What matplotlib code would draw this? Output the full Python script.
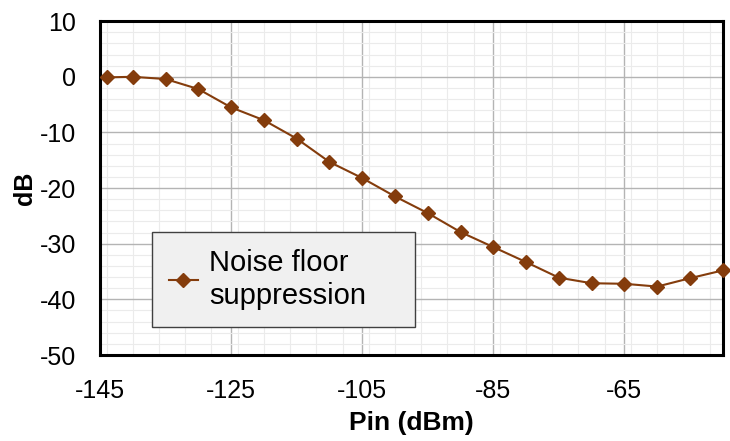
import matplotlib
matplotlib.use('Agg')
import matplotlib.pyplot as plt
from matplotlib.ticker import MultipleLocator

# data
pin_dbm = [-144, -140, -135, -130, -125, -120, -115, -110, -105, -100, -95,
           -90, -85, -80, -75, -70, -65, -60, -55, -50]
suppression_db = [-0.1, 0.0, -0.4, -2.2, -5.5, -7.8, -11.1, -15.3, -18.2, -21.5, -24.5,
                  -27.9, -30.6, -33.3, -36.1, -37.1, -37.2, -37.7, -36.2, -34.8]
x_ticks = [-145, -125, -105, -85, -65]
y_ticks = [10, 0, -10, -20, -30, -40, -50]

plt.rcParams['font.family'] = ['Liberation Sans', 'DejaVu Sans']
plt.rcParams['axes.unicode_minus'] = False

fig = plt.figure(figsize=(7.3, 4.41), dpi=100)
ax = fig.add_axes([0.137, 0.195, 0.853, 0.757])

ax.plot(pin_dbm, suppression_db, color='#843c0c', lw=1.5, marker='D', ms=7,
        label='Noise floor\nsuppression', zorder=3, clip_on=False)

ax.set_xlim(-145, -50)
ax.set_ylim(-50, 10)
ax.set_xticks(x_ticks)
ax.set_yticks(y_ticks)
ax.xaxis.set_minor_locator(MultipleLocator(4))
ax.yaxis.set_minor_locator(MultipleLocator(2))
ax.grid(which='major', color='#b4b4b4', lw=1.0)
ax.grid(which='minor', color='#ebebeb', lw=0.8)
ax.set_axisbelow(True)
ax.tick_params(which='both', length=0, labelsize=18)
ax.tick_params(axis='x', pad=17)
ax.tick_params(axis='y', pad=17)
for s in ax.spines.values():
    s.set_linewidth(2.2)
    s.set_color('black')

ax.set_xlabel('Pin (dBm)', fontsize=19, fontweight='bold', labelpad=6)
ax.set_ylabel('dB', fontsize=18, fontweight='bold', labelpad=2)

leg = ax.legend(loc='lower left', bbox_to_anchor=(0.083, 0.085, 0.4226, 0.284),
                mode='expand', fontsize=21,
                fancybox=False, frameon=True, handlelength=1.0, handletextpad=0.4,
                borderpad=0.58, borderaxespad=0)
leg.get_frame().set_facecolor('#f0f0f0')
leg.get_frame().set_edgecolor('#404040')
leg.get_frame().set_alpha(1)
leg.get_frame().set_linewidth(1.0)

fig.savefig('out.png', dpi=100)
